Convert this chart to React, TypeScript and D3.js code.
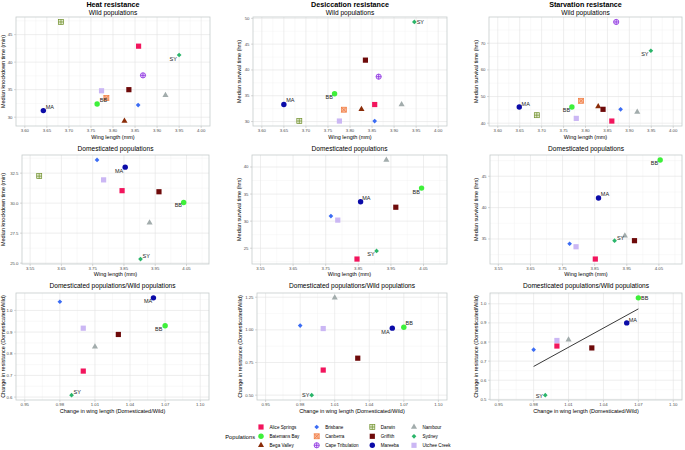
import React from "react";
import * as d3 from "d3";

// populations (legend order) and short codes used for the point labels
const populations = [
  "Alice Springs", "Batemans Bay", "Bega Valley", "Brisbane", "Canberra", "Cape Tribulation",
  "Darwin", "Griffith", "Mareeba", "Nambour", "Sydney", "Utchee Creek",
];
const codes = ["AS", "BB", "BV", "BR", "CB", "CT", "DW", "GR", "MA", "NB", "SY", "UC"];

// wild populations
const heatWildWing = [3.858, 3.764, 3.826, 3.857, 3.785, 3.868, 3.682, 3.836, 3.642, 3.919, 3.95, 3.774];
const heatWildTime = [42.9, 32.4, 29.3, 32.2, 33.5, 37.6, 47.3, 35.0, 31.2, 34.0, 41.3, 34.8];
const desWildWing = [3.856, 3.765, 3.826, 3.856, 3.786, 3.865, 3.685, 3.835, 3.65, 3.917, 3.946, 3.776];
const desWildTime = [33.3, 35.4, 32.4, 30.1, 32.3, 38.7, 30.1, 41.9, 33.3, 33.3, 49.3, 30.1];
const starvWildWing = [3.86, 3.769, 3.829, 3.88, 3.79, 3.87, 3.689, 3.84, 3.649, 3.918, 3.949, 3.779];
const starvWildTime = [40.8, 46.1, 46.3, 45.2, 48.4, 78.0, 43.0, 45.2, 46.1, 44.2, 67.2, 41.8];

// domesticated populations
const heatDomWing = [3.844, 4.041, null, 3.764, null, null, 3.579, 3.962, 3.854, 3.932, 3.903, 3.785];
const heatDomTime = [31.04, 30.06, null, 33.6, null, null, 32.25, 30.95, 33.0, 28.37, 25.34, 31.94];
const desDomWing = [3.846, 4.044, null, 3.766, null, null, null, 3.965, 3.857, 3.936, 3.906, 3.787];
const desDomTime = [23.0, 36.1, null, 30.93, null, null, null, 32.57, 33.57, 41.3, 24.5, 30.19];
const starvDomWing = [3.852, 4.054, null, 3.772, null, null, null, 3.974, 3.862, 3.944, 3.912, 3.792];
const starvDomTime = [31.8, 47.6, null, 34.24, null, null, null, 34.73, 41.54, 35.5, 34.73, 33.76];

// domesticated / wild
const wingRatio = [1.0, 1.07, null, 0.98, null, null, null, 1.03, 1.06, 1.01, 0.99, 1.0];
const heatRatio = [0.72, 0.929, null, 1.04, null, null, null, 0.889, 1.058, 0.832, 0.609, 0.918];
const desRatio = [0.692, 1.02, null, 1.033, null, null, null, 0.783, 1.013, 1.245, 0.5, 1.01];
const starvRatio = [0.779, 1.031, null, 0.76, null, null, null, 0.769, 0.9, 0.812, 0.522, 0.808];

// tick labels
const wildWingTicks = [3.6, 3.65, 3.7, 3.75, 3.8, 3.85, 3.9, 3.95, 4.0];
const domWingTicks = [3.55, 3.65, 3.75, 3.85, 3.95, 4.05];
const ratioWingTicks = [0.95, 0.98, 1.01, 1.04, 1.07, 1.1];
const heatWildTicks = [30, 35, 40, 45];
const desWildTicks = [30, 35, 40, 45, 50];
const starvWildTicks = [40, 50, 60, 70];
const heatDomTicks = [25, 27.5, 30, 32.5];
const desDomTicks = [25, 30, 35, 40];
const starvDomTicks = [35, 40, 45];
const heatRatioTicks = [0.6, 0.7, 0.8, 0.9, 1.0];
const desRatioTicks = [0.5, 0.75, 1.0, 1.25];
const starvRatioTicks = [0.5, 0.6, 0.7, 0.8, 0.9, 1.0];

// styles
const colors = ["#f2155d", "#3ef03a", "#8a2c08", "#3b6cf4", "#f07a3c", "#8b2ce0",
  "#6f8f2a", "#6e0a0a", "#0b0ba8", "#a2acac", "#2bb56a", "#cbb7f4"];
const fills = ["#f2155d", "#3ef03a", "#8a2c08", "#3b6cf4", "#f8b699", "#ece0fb",
  "#e2ead0", "#6e0a0a", "#0b0ba8", "#a2acac", "#2bb56a", "#cbb7f4"];
const shapes = ["square", "circle", "triangle", "diamond", "squareX", "circlePlus",
  "squarePlus", "square", "circle", "triangle", "diamond", "square"];

const FONT = "Liberation Sans, Arial, Helvetica, sans-serif";

const rows = [
  { top: 17, bottom: 126, sub: "Wild populations", subY: 14.8, xDomain: [3.58, 4.02], xTicks: wildWingTicks,
    xFmt: d3.format(".2f"), xTitle: "Wing length (mm)", xTitleY: 139 },
  { top: 155, bottom: 264, sub: "Domesticated populations", subY: 150.6, xDomain: [3.524, 4.122], xTicks: domWingTicks,
    xFmt: d3.format(".2f"), xTitle: "Wing length (mm)", xTitleY: 276.3 },
  { top: 293, bottom: 400, sub: "Domesticated populations/Wild populations", subY: 287.6, xDomain: [0.9425, 1.1075],
    xTicks: ratioWingTicks, xFmt: d3.format(".2f"), xTitle: "Change in wing length (Domesticated/Wild)", xTitleY: 412.7 },
];

const L = (code, dx, dy, anchor) => ({ code, dx, dy, anchor });

const panels = [
  { row: 0, x0: 16, x1: 210, xs: heatWildWing, ys: heatWildTime, yTicks: heatWildTicks, yFmt: d3.format("d"),
    title: "Heat resistance", yTitle: "Median knockdown time (min)", yTitleX: 2.9,
    labels: [L("MA", 2.3, -3.3, "start"), L("BB", 2.7, -4, "start"), L("SY", -2.3, 3.7, "end")] },
  { row: 0, x0: 253, x1: 447, xs: desWildWing, ys: desWildTime, yTicks: desWildTicks, yFmt: d3.format("d"),
    title: "Desiccation resistance", yTitle: "Median survival time (hrs)", yTitleX: 239.3,
    labels: [L("SY", 2.3, 0, "start"), L("MA", 2.3, -4, "start"), L("BB", -1.7, 3, "end")] },
  { row: 0, x0: 489, x1: 682, xs: starvWildWing, ys: starvWildTime, yTicks: starvWildTicks, yFmt: d3.format("d"),
    title: "Starvation resistance", yTitle: "Median survival time (hrs)", yTitleX: 476.3,
    labels: [L("MA", 2.3, -3.3, "start"), L("BB", -1.7, 3.3, "end"), L("SY", -2.3, 3.3, "end")] },
  { row: 1, x0: 22, x1: 209, xs: heatDomWing, ys: heatDomTime, yTicks: heatDomTicks, yFmt: d3.format(".1f"),
    yTitle: "Median knockdown time (min)", yTitleX: 2.9,
    labels: [L("MA", -2, 4, "end"), L("BB", -1.7, 3, "end"), L("SY", 2, -3, "start")] },
  { row: 1, x0: 252, x1: 447, xs: desDomWing, ys: desDomTime, yTicks: desDomTicks, yFmt: d3.format("d"),
    yTitle: "Median survival time (hrs)", yTitleX: 239.3,
    labels: [L("MA", 1.7, -4, "start"), L("BB", -1.7, 4, "end"), L("SY", -2, 3.3, "end")] },
  { row: 1, x0: 490, x1: 682, xs: starvDomWing, ys: starvDomTime, yTicks: starvDomTicks, yFmt: d3.format("d"),
    yTitle: "Median survival time (hrs)", yTitleX: 476.3,
    labels: [L("BB", -2, 3.3, "end"), L("MA", 2.3, -3.7, "start"), L("SY", 2.3, -3, "start")] },
  { row: 2, x0: 16, x1: 209, xs: wingRatio, ys: heatRatio, yTicks: heatRatioTicks, yFmt: d3.format(".1f"),
    yTitle: "Change in resistance (Domesticated/Wild)", yTitleX: 2.7,
    labels: [L("MA", -1.3, 3, "end"), L("BB", -2.7, 3.7, "end"), L("SY", 2, -3, "start")] },
  { row: 2, x0: 257, x1: 447, xs: wingRatio, ys: desRatio, yTicks: desRatioTicks, yFmt: d3.format(".2f"),
    yTitle: "Change in resistance (Domesticated/Wild)", yTitleX: 240,
    labels: [L("BB", 1.7, -3.7, "start"), L("MA", -2.7, 3.7, "end"), L("SY", -2.3, 0, "end")] },
  { row: 2, x0: 490, x1: 682, xs: wingRatio, ys: starvRatio, yTicks: starvRatioTicks, yFmt: d3.format(".1f"),
    yTitle: "Change in resistance (Domesticated/Wild)", yTitleX: 476.3, fit: true,
    labels: [L("BB", 2.7, 0, "start"), L("MA", 2, -3.3, "start"), L("SY", -2.3, 1, "end")] },
];

function minorOf(ticks, domain) {
  const s = ticks[1] - ticks[0];
  const out = [ticks[0] - s / 2, ...ticks.map((t) => t + s / 2)];
  return out.filter((v) => v > domain[0] && v < domain[1]);
}

const sq = d3.symbol(d3.symbolSquare, 27)();
const circ = d3.symbol(d3.symbolCircle, 23)();
const tri = d3.symbol(d3.symbolTriangle, 16)();
const dia = d3.symbol(d3.symbolSquare, 11)();

function Marker({ i, x, y }) {
  const shape = shapes[i];
  const c = colors[i];
  const f = fills[i];
  const t = `translate(${x},${y})`;
  const h = 2.5;
  if (shape === "square") return <path d={sq} transform={t} fill={c} />;
  if (shape === "circle") return <path d={circ} transform={t} fill={c} />;
  if (shape === "triangle") return <path d={tri} transform={t} fill={c} />;
  if (shape === "diamond") return <path d={dia} transform={`${t} rotate(45)`} fill={c} />;
  if (shape === "squareX")
    return (
      <g transform={t} stroke={c} strokeWidth={0.7} fill={f}>
        <rect x={-h} y={-h} width={2 * h} height={2 * h} />
        <path d={`M${-h},${-h}L${h},${h}M${-h},${h}L${h},${-h}`} />
      </g>
    );
  if (shape === "squarePlus")
    return (
      <g transform={t} stroke={c} strokeWidth={0.7} fill={f}>
        <rect x={-h} y={-h} width={2 * h} height={2 * h} />
        <path d={`M0,${-h}V${h}M${-h},0H${h}`} />
      </g>
    );
  return (
    <g transform={t} stroke={c} strokeWidth={0.8} fill={f}>
      <circle r={2.6} />
      <path d={`M0,-2.6V2.6M-2.6,0H2.6`} />
    </g>
  );
}

function Panel({ cfg }) {
  const row = rows[cfg.row];
  const x = d3.scaleLinear().domain(row.xDomain).range([cfg.x0, cfg.x1]);
  const pts = populations
    .map((name, i) => ({ i, wx: cfg.xs[i], v: cfg.ys[i] }))
    .filter((d) => d.wx != null && d.v != null);
  const [lo, hi] = d3.extent(pts, (d) => d.v);
  const pad = (hi - lo) * 0.05;
  const y = d3.scaleLinear().domain([lo - pad, hi + pad]).range([row.bottom, row.top]);
  const xMinor = minorOf(row.xTicks, x.domain());
  const yMinor = minorOf(cfg.yTicks, y.domain());
  const cx = (cfg.x0 + cfg.x1) / 2;
  const cy = (row.top + row.bottom) / 2;

  let fitLine = null;
  if (cfg.fit) {
    const mx = d3.mean(pts, (d) => d.wx);
    const my = d3.mean(pts, (d) => d.v);
    const sxy = d3.sum(pts, (d) => (d.wx - mx) * (d.v - my));
    const sxx = d3.sum(pts, (d) => (d.wx - mx) ** 2);
    const b = sxy / sxx;
    const [xa, xb] = d3.extent(pts, (d) => d.wx);
    const line = d3.line().x((d) => x(d[0])).y((d) => y(d[1]));
    fitLine = line([[xa, my + b * (xa - mx)], [xb, my + b * (xb - mx)]]);
  }

  return (
    <g>
      {cfg.title && (
        <text x={cx} y={6.6} textAnchor="middle" fontSize={7.2} fontWeight="bold">{cfg.title}</text>
      )}
      <text x={cx} y={row.subY} textAnchor="middle" fontSize={6.6}>{row.sub}</text>
      <rect x={cfg.x0} y={row.top} width={cfg.x1 - cfg.x0} height={row.bottom - row.top} fill="#fff" />
      {xMinor.map((v) => (
        <line key={"xm" + v} x1={x(v)} x2={x(v)} y1={row.top} y2={row.bottom} stroke="#f0f0f0" strokeWidth={0.4} />
      ))}
      {yMinor.map((v) => (
        <line key={"ym" + v} y1={y(v)} y2={y(v)} x1={cfg.x0} x2={cfg.x1} stroke="#f0f0f0" strokeWidth={0.4} />
      ))}
      {row.xTicks.map((v) => (
        <line key={"xg" + v} x1={x(v)} x2={x(v)} y1={row.top} y2={row.bottom} stroke="#e2e2e2" strokeWidth={0.6} />
      ))}
      {cfg.yTicks.map((v) => (
        <line key={"yg" + v} y1={y(v)} y2={y(v)} x1={cfg.x0} x2={cfg.x1} stroke="#e2e2e2" strokeWidth={0.6} />
      ))}
      {fitLine && <path d={fitLine} stroke="#222" strokeWidth={0.9} fill="none" />}
      {pts.map((d) => (
        <Marker key={d.i} i={d.i} x={x(d.wx)} y={y(d.v)} />
      ))}
      {cfg.labels.map((lb) => {
        const i = codes.indexOf(lb.code);
        return (
          <text key={lb.code} x={x(cfg.xs[i]) + lb.dx} y={y(cfg.ys[i]) + lb.dy} dy="0.35em"
            textAnchor={lb.anchor} fontSize={5.5} fill="#222">{lb.code}</text>
        );
      })}
      <rect x={cfg.x0} y={row.top} width={cfg.x1 - cfg.x0} height={row.bottom - row.top}
        fill="none" stroke="#c6cccc" strokeWidth={0.8} />
      {row.xTicks.map((v) => (
        <g key={"xt" + v}>
          <line x1={x(v)} x2={x(v)} y1={row.bottom} y2={row.bottom + 2} stroke="#b3b3b3" strokeWidth={0.5} />
          <text x={x(v)} y={row.bottom + 6.2} textAnchor="middle" fontSize={4.3} fill="#4d4d4d">{row.xFmt(v)}</text>
        </g>
      ))}
      {cfg.yTicks.map((v) => (
        <g key={"yt" + v}>
          <line x1={cfg.x0 - 2} x2={cfg.x0} y1={y(v)} y2={y(v)} stroke="#b3b3b3" strokeWidth={0.5} />
          <text x={cfg.x0 - 3.5} y={y(v) + 1.5} textAnchor="end" fontSize={4.3} fill="#4d4d4d">{cfg.yFmt(v)}</text>
        </g>
      ))}
      <text x={cx} y={row.xTitleY} textAnchor="middle" fontSize={5.5}>{row.xTitle}</text>
      <text transform={`translate(${cfg.yTitleX},${cy}) rotate(-90)`} dy="0.35em" textAnchor="middle" fontSize={5.5}>
        {cfg.yTitle}
      </text>
    </g>
  );
}

function Legend() {
  const colX = [261, 316.7, 372.3, 414];
  const rowY = [427, 436.3, 445.3];
  return (
    <g>
      <text x={255} y={439} textAnchor="end" fontSize={5.7}>Populations</text>
      {populations.map((name, i) => {
        const cx = colX[Math.floor(i / 3)];
        const cy = rowY[i % 3];
        return (
          <g key={name}>
            <Marker i={i} x={cx} y={cy} />
            <text x={cx + 8.5} y={cy + 1.6} fontSize={4.6}>{name}</text>
          </g>
        );
      })}
    </g>
  );
}

export default function App() {
  return (
    <div style={{ position: "absolute", left: 0, top: 0 }}>
      <svg width={685} height={450} style={{ display: "block", background: "#fff" }} fontFamily={FONT}>
        {panels.map((p, k) => (
          <Panel key={k} cfg={p} />
        ))}
        <Legend />
      </svg>
    </div>
  );
}
